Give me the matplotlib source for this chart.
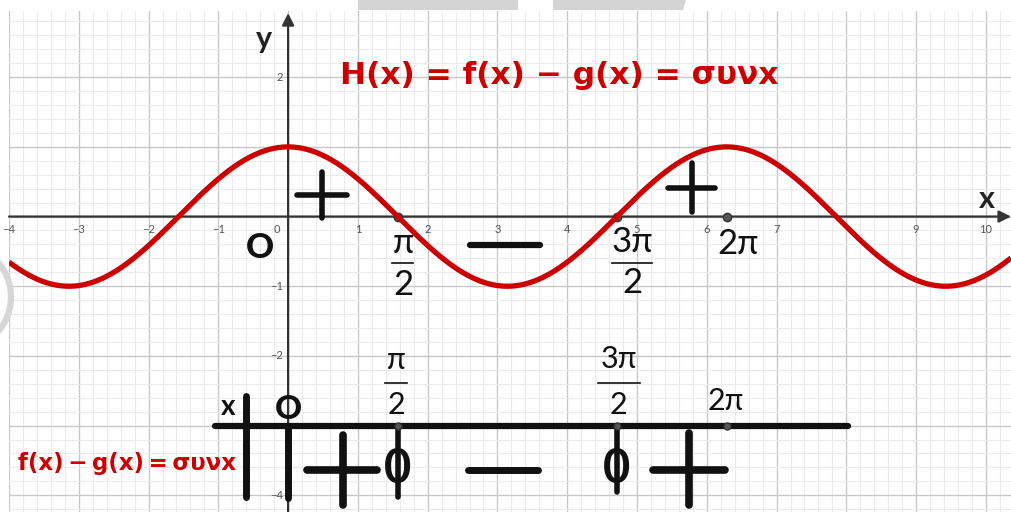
import numpy as np
import matplotlib
matplotlib.use("Agg")
import matplotlib.pyplot as plt
from matplotlib.patches import Polygon, Circle
from matplotlib.ticker import MultipleLocator

plt.rcParams['font.family'] = ['Lato', 'DejaVu Sans']

# ---- data -------------------------------------------------------------
x_min, x_max = -4.0, 10.36
y_min, y_max = -4.24, 2.95
x_tick_labels = [-4, -3, -2, -1, 1, 2, 3, 4, 5, 6, 7, 9, 10]
y_tick_labels = [2, -1, -2, -4]
key_points = [np.pi / 2, 3 * np.pi / 2, 2 * np.pi]
table_row = -3.0            # height of the sign-table line
table_start, table_end = -1.05, 8.02

RED = '#cc0000'
INK = '#111111'
AXIS = '#333333'
RED_FONT = ['DejaVu Sans']

fig = plt.figure(figsize=(10.11, 5.12), dpi=100)
ax = fig.add_axes([9 / 1011, 0, 1 - 9 / 1011, (512 - 11) / 512])
ax.set_xlim(x_min, x_max)
ax.set_ylim(y_min, y_max)
for s in ax.spines.values():
    s.set_visible(False)

# grid
ax.xaxis.set_major_locator(MultipleLocator(1))
ax.yaxis.set_major_locator(MultipleLocator(1))
ax.xaxis.set_minor_locator(MultipleLocator(0.2))
ax.yaxis.set_minor_locator(MultipleLocator(0.2))
ax.grid(which='major', color='#c8c8c8', lw=1.0)
ax.grid(which='minor', color='#ebebeb', lw=0.8)
ax.tick_params(which='both', length=0, labelbottom=False, labelleft=False)
ax.set_axisbelow(True)

# axes with arrows
ax.annotate('', xy=(x_max, 0), xytext=(x_min, 0),
            arrowprops=dict(arrowstyle='-|>', color=AXIS, lw=1.6,
                            mutation_scale=18, shrinkA=0, shrinkB=0))
ax.annotate('', xy=(0, 2.92), xytext=(0, y_min),
            arrowprops=dict(arrowstyle='-|>', color=AXIS, lw=1.6,
                            mutation_scale=18, shrinkA=0, shrinkB=0))
ax.text(-0.34, 2.55, 'y', fontsize=22, fontweight='bold', color='#222222',
        ha='center', va='center')
ax.text(10.02, 0.25, 'x', fontsize=22, fontweight='bold', color='#222222',
        ha='center', va='center')

# tick labels
for v in x_tick_labels:
    ax.text(v, -0.19, str(v).replace('-', '\u2212'), fontsize=8, color='#555555',
            ha='center', va='center')
ax.text(-0.16, -0.19, '0', fontsize=8, color='#555555', ha='center', va='center')
for v in y_tick_labels:
    ax.text(-0.07, v, str(v).replace('-', '\u2212'), fontsize=8, color='#555555',
            ha='right', va='center')

# key points on the x-axis
for k in key_points:
    ax.plot(k, 0, 'o', ms=6, color='#555555', mec='#333333', zorder=3)

# the function  H(x) = cos x
xs = np.linspace(x_min, x_max, 1000)
ax.plot(xs, np.cos(xs), color=RED, lw=3.8, zorder=4, solid_capstyle='butt')

ax.text(0.745, 2.03, 'H(x) = f(x) \u2212 g(x) = \u03c3\u03c5\u03bdx', fontsize=22.5,
        fontweight='bold', color=RED, ha='left', va='center', family=RED_FONT)

# labels under the x-axis
big = dict(fontsize=25, color=INK, ha='center', va='center')
ax.text(-0.40, -0.45, 'O', fontweight='black', **big)
ax.text(1.65, -0.38, '\u03c0', **big)
ax.plot([1.49, 1.79], [-0.66, -0.66], color=INK, lw=1.2)
ax.text(1.65, -0.98, '2', **big)
ax.text(4.93, -0.36, '3\u03c0', **big)
ax.plot([4.64, 5.21], [-0.66, -0.66], color=INK, lw=1.2)
ax.text(4.93, -0.96, '2', **big)
ax.text(6.45, -0.40, '2\u03c0', **big)


def sign_stroke(xa, xb, ya, yb, lw):
    ax.plot([xa, xb], [ya, yb], color=INK, lw=lw, solid_capstyle='round', zorder=5)


# signs of cos x on the graph
sign_stroke(0.13, 0.85, 0.31, 0.31, 4.0)
sign_stroke(0.49, 0.49, 0.64, -0.02, 4.0)
sign_stroke(2.61, 3.61, -0.41, -0.41, 4.5)
sign_stroke(5.44, 6.12, 0.41, 0.41, 4.0)
sign_stroke(5.79, 5.79, 0.77, 0.06, 4.0)

# ---- sign table -------------------------------------------------------
sign_stroke(table_start, table_end, table_row, table_row, 4.5)
sign_stroke(-0.60, -0.60, -2.57, -4.03, 5.0)
sign_stroke(0.0, 0.0, table_row, -4.04, 5.0)
ax.text(-0.86, -2.73, 'x', fontsize=20, fontweight='bold', color=INK,
        ha='center', va='center')
ax.text(0.0, -2.77, 'O', fontsize=24, fontweight='black', color=INK,
        ha='center', va='center')

mid = dict(fontsize=22, color=INK, ha='center', va='center')
ax.text(1.55, -2.06, '\u03c0', **mid)
ax.plot([1.39, 1.70], [-2.39, -2.39], color=INK, lw=1.2)
ax.text(1.55, -2.71, '2', **mid)
ax.text(4.74, -2.04, '3\u03c0', **mid)
ax.plot([4.44, 5.04], [-2.39, -2.39], color=INK, lw=1.2)
ax.text(4.74, -2.71, '2', **mid)
ax.text(6.28, -2.65, '2\u03c0', **mid)

for k in key_points:
    ax.plot(k, table_row, 'o', ms=5, color='#555555', mec='#333333', zorder=6)

# zeros of cos x
sign_stroke(key_points[0], key_points[0], table_row, -4.03, 4.0)
sign_stroke(key_points[1], key_points[1], table_row, -3.95, 4.0)
for k in key_points[:2]:
    ax.text(k, -3.62, '0', fontsize=34, fontweight='bold', color=INK,
            ha='center', va='center', zorder=6)

# signs in the table
sign_stroke(0.27, 1.28, -3.64, -3.64, 5.5)
sign_stroke(0.79, 0.79, -3.13, -4.14, 5.5)
sign_stroke(2.58, 3.58, -3.64, -3.64, 5.0)
sign_stroke(5.23, 6.26, -3.64, -3.64, 5.5)
sign_stroke(5.74, 5.74, -3.11, -4.14, 5.5)

ax.text(-3.87, -3.55, 'f(x)\u2009\u2212\u2009g(x)\u2009=\u2009\u03c3\u03c5\u03bdx', fontsize=16.5,
        fontweight='bold', color=RED, ha='left', va='center', family=RED_FONT)

# light-grey page marks around the figure
fig.patches.append(Polygon([[358 / 1011, 1], [518 / 1011, 1], [518 / 1011, 502 / 512],
                            [358 / 1011, 502 / 512]], closed=True, transform=fig.transFigure,
                           facecolor='#d4d4d4', edgecolor='none'))
fig.patches.append(Polygon([[553 / 1011, 1], [686 / 1011, 1], [683 / 1011, 502 / 512],
                            [553 / 1011, 502 / 512]], closed=True, transform=fig.transFigure,
                           facecolor='#d4d4d4', edgecolor='none'))
ring = Circle((-42, 215), 53, transform=None, fill=False, edgecolor='#d6d6d6', lw=4.5,
              zorder=10)
fig.patches.append(ring)

fig.savefig('out.png', dpi=100)
